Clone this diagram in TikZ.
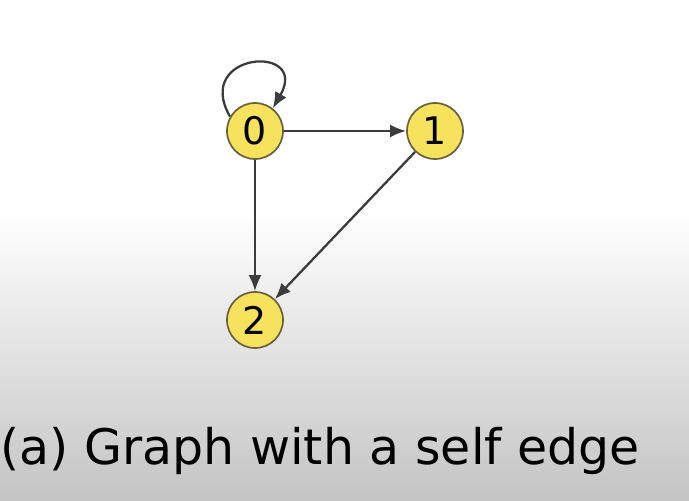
\documentclass[tikz,border=0pt]{standalone}
\usepackage{fontspec}
\setmainfont{DejaVu Sans}
\usepackage{xcolor}
\usepackage{tikz}
\usetikzlibrary{shapes,arrows,arrows.meta,positioning}

\definecolor{vertexfill}{RGB}{246,226,92}
\definecolor{vertexline}{RGB}{105,98,62}
\definecolor{edgegray}{RGB}{60,60,60}
\definecolor{bggray}{RGB}{196,196,196}

\tikzset{
    vertex/.style={
        circle,
        draw=vertexline,
        line width=0.6mm,
        fill=vertexfill,
        minimum size=56pt,
        inner sep=0pt,
        font=\fontsize{38}{38}\selectfont
    },
    arc/.style={
        -{Latex[length=16pt,width=13pt]},
        line width=0.8mm,
        draw=edgegray
    }
}

\begin{document}
\begin{tikzpicture}[x=1pt,y=1pt]
                \useasboundingbox (0,0) rectangle (689,501);

                \fill[white] (0,0) rectangle (689,501);
                \shade[
                    top color=white,
                    bottom color=bggray
                    ] (0,0) rectangle (689,290);

                \node[vertex] (n0) at (255,370) {0};
                \node[vertex] (n1) at (435,370) {1};
                \node[vertex] (n2) at (255,181) {2};

                \draw[arc] (n0.150) .. controls +(120:75) and +(60:75) .. (n0.52);

                \draw[arc] (n0) to (n1);

                \draw[arc] (n0) to (n2);

                \draw[arc] (n1) to (n2);

                \node[
                    anchor=base west,
                    font=\fontsize{49}{49}\selectfont
                    ] (caption) at (-3,36) {(a) Graph with a self edge};

            \end{tikzpicture}
\end{document}
